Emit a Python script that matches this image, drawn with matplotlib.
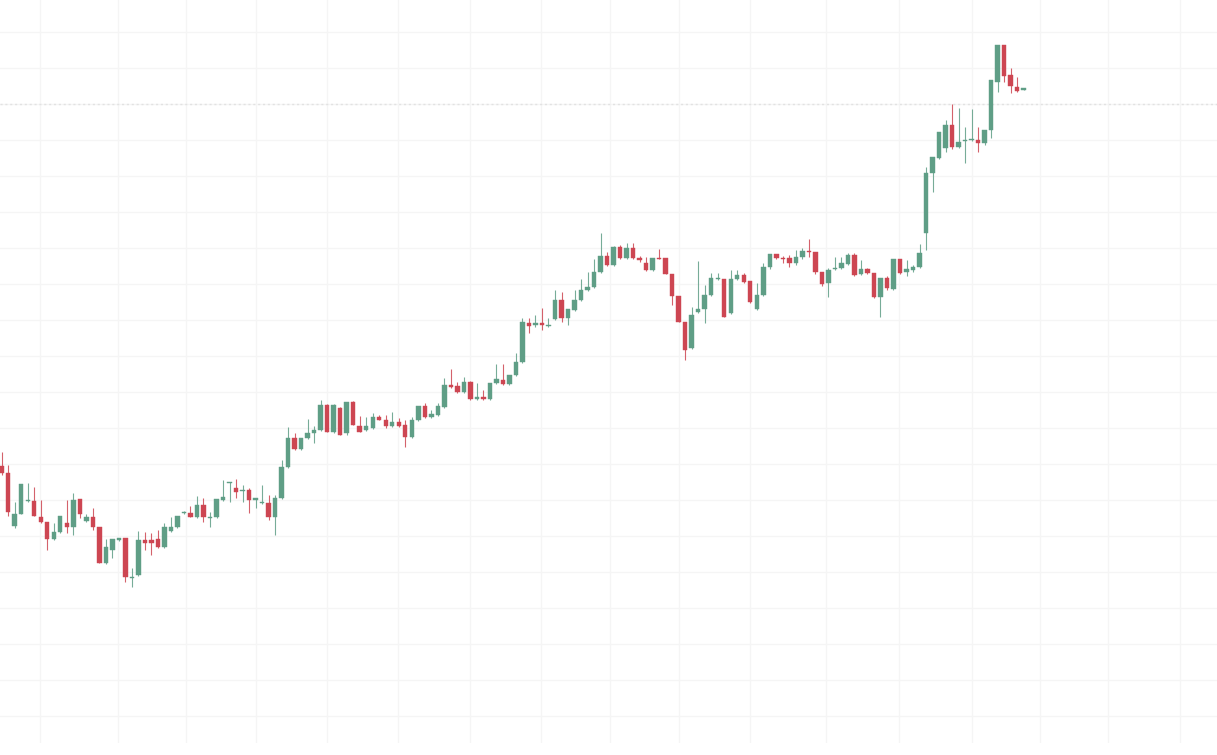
import numpy as np
import matplotlib
matplotlib.use("Agg")
from matplotlib import pyplot as plt
from matplotlib.patches import Rectangle

# candle values (price axis runs top-down, in screen rows)
opens = [466, 473, 526, 514, 501, 501, 517, 522, 539, 532, 523, 527, 499, 521, 517, 527, 563, 550, 540, 538,
         578, 575, 540, 540, 539, 547, 531, 527, 513, 513, 517, 505, 518, 517, 500, 483, 488, 491, 490, 500,
         503, 503, 517, 498, 467, 438, 449, 438, 433, 430, 405, 432, 408, 433, 402, 426, 430, 428, 417, 420,
         426, 422, 425, 437, 420, 406, 417, 415, 407, 385, 386, 392, 382, 399, 397, 399, 383, 380, 384, 375,
         362, 323, 325, 323, 326, 319, 300, 318, 310, 300, 290, 287, 272, 256, 265, 247, 258, 248, 258, 263,
         270, 258, 258, 274, 296, 322, 348, 312, 309, 295, 279, 279, 313, 279, 275, 281, 309, 295, 267, 254,
         258, 258, 263, 257, 251, 252, 272, 283, 268, 268, 264, 255, 274, 269, 273, 297, 278, 289, 259, 272,
         270, 267, 233, 173, 158, 148, 125, 147, 141, 140, 140, 143, 130, 82, 45, 75, 87, 90]
highs = [452, 465, 502, 484, 483, 487, 500, 522, 523, 516, 500, 493, 499, 514, 508, 527, 539, 539, 538, 538,
         568, 531, 532, 533, 530, 523, 517, 516, 511, 506, 496, 498, 512, 499, 480, 482, 479, 485, 488, 498,
         485, 495, 495, 460, 427, 433, 438, 419, 426, 400, 404, 404, 407, 402, 401, 416, 417, 413, 415, 415,
         412, 418, 420, 417, 406, 403, 410, 403, 378, 369, 382, 377, 381, 383, 390, 383, 364, 364, 375, 353,
         318, 318, 315, 308, 318, 290, 292, 309, 290, 279, 272, 259, 233, 252, 246, 245, 243, 243, 256, 257,
         258, 249, 258, 274, 296, 322, 307, 261, 285, 273, 273, 279, 270, 270, 273, 281, 283, 263, 254, 254,
         256, 255, 250, 248, 239, 252, 272, 268, 257, 257, 253, 253, 260, 268, 273, 278, 276, 259, 259, 260,
         265, 244, 167, 157, 132, 120, 104, 108, 127, 109, 127, 130, 80, 45, 45, 68, 77, 88]
lows = [475, 516, 528, 514, 502, 516, 523, 550, 540, 533, 533, 535, 518, 522, 530, 563, 564, 558, 541, 582,
        587, 576, 550, 555, 548, 548, 532, 528, 514, 517, 518, 522, 527, 518, 501, 502, 498, 502, 513, 508,
        504, 520, 535, 499, 468, 450, 450, 439, 443, 431, 432, 433, 435, 435, 425, 432, 431, 429, 420, 428,
        427, 427, 447, 438, 421, 418, 418, 416, 408, 388, 393, 393, 400, 400, 400, 400, 384, 385, 385, 376,
        363, 333, 327, 330, 327, 320, 322, 325, 311, 301, 291, 288, 273, 266, 266, 259, 259, 259, 262, 271,
        271, 259, 274, 305, 322, 360, 349, 313, 323, 296, 280, 317, 314, 280, 283, 303, 310, 296, 269, 259,
        263, 267, 265, 259, 257, 274, 286, 297, 270, 269, 265, 276, 275, 274, 298, 317, 290, 290, 274, 276,
        272, 268, 250, 192, 159, 152, 149, 148, 163, 141, 152, 145, 138, 92, 82, 93, 92, 90]
closes = [473, 512, 514, 484, 500, 516, 522, 539, 532, 516, 527, 500, 514, 517, 527, 563, 547, 539, 538, 577,
          577, 540, 543, 543, 547, 527, 527, 516, 512, 517, 505, 517, 517, 499, 497, 482, 492, 490, 500, 498,
          502, 517, 498, 467, 438, 449, 438, 433, 430, 405, 432, 405, 435, 402, 425, 432, 426, 417, 420, 426,
          422, 426, 437, 420, 406, 417, 414, 406, 385, 387, 392, 382, 399, 397, 399, 383, 379, 384, 375, 362,
          322, 326, 323, 325, 325, 300, 318, 309, 300, 290, 287, 272, 256, 265, 247, 258, 248, 258, 260, 270,
          258, 259, 274, 296, 322, 350, 315, 309, 295, 278, 278, 317, 279, 275, 282, 302, 295, 267, 254, 258,
          259, 263, 257, 251, 252, 272, 284, 270, 268, 263, 255, 275, 269, 273, 297, 278, 288, 259, 273, 269,
          267, 253, 173, 157, 132, 125, 147, 142, 140, 139, 143, 130, 80, 45, 76, 86, 91, 88]

# faint chart grid, in candle index / screen row units
grid_cols = [5.9, 17.9, 28.3, 39.1, 50.0, 60.9, 71.9, 82.8, 93.4, 104.1, 115.0, 126.6, 137.8, 149.1, 159.5, 170.0, 181.0]
grid_rows = np.arange(32, 744, 36)
dotted_level = 104

up_color = "#5f9e86"
down_color = "#cd4652"

fig = plt.figure(figsize=(12.17, 7.55), dpi=100)
ax = fig.add_axes([0, 12 / 755, 1, 743 / 755])

for r in grid_rows:
    ax.axhline(r, color="#f5f5f5", lw=1.0, zorder=0)
for c in grid_cols:
    ax.axvline(c, color="#f5f5f5", lw=1.0, zorder=0)
ax.axhline(dotted_level, color="#e2e2e2", lw=1.0, ls=(0, (1.5, 2)), zorder=0)

width = 0.68
for i, (o, h, l, c) in enumerate(zip(opens, highs, lows, closes)):
    col = up_color if c <= o else down_color
    ax.vlines(i, h, l, color=col, lw=0.8, alpha=0.85, zorder=2)
    top, bot = min(o, c), max(o, c)
    ax.add_patch(Rectangle((i - width / 2, top), width, max(bot - top, 1.2),
                           facecolor=col, edgecolor=col, lw=0.3, zorder=3))

ax.set_xlim(-0.26, 186.7)
ax.set_ylim(743, 0)
ax.axis("off")
fig.savefig("out.png", dpi=100, facecolor="white")
